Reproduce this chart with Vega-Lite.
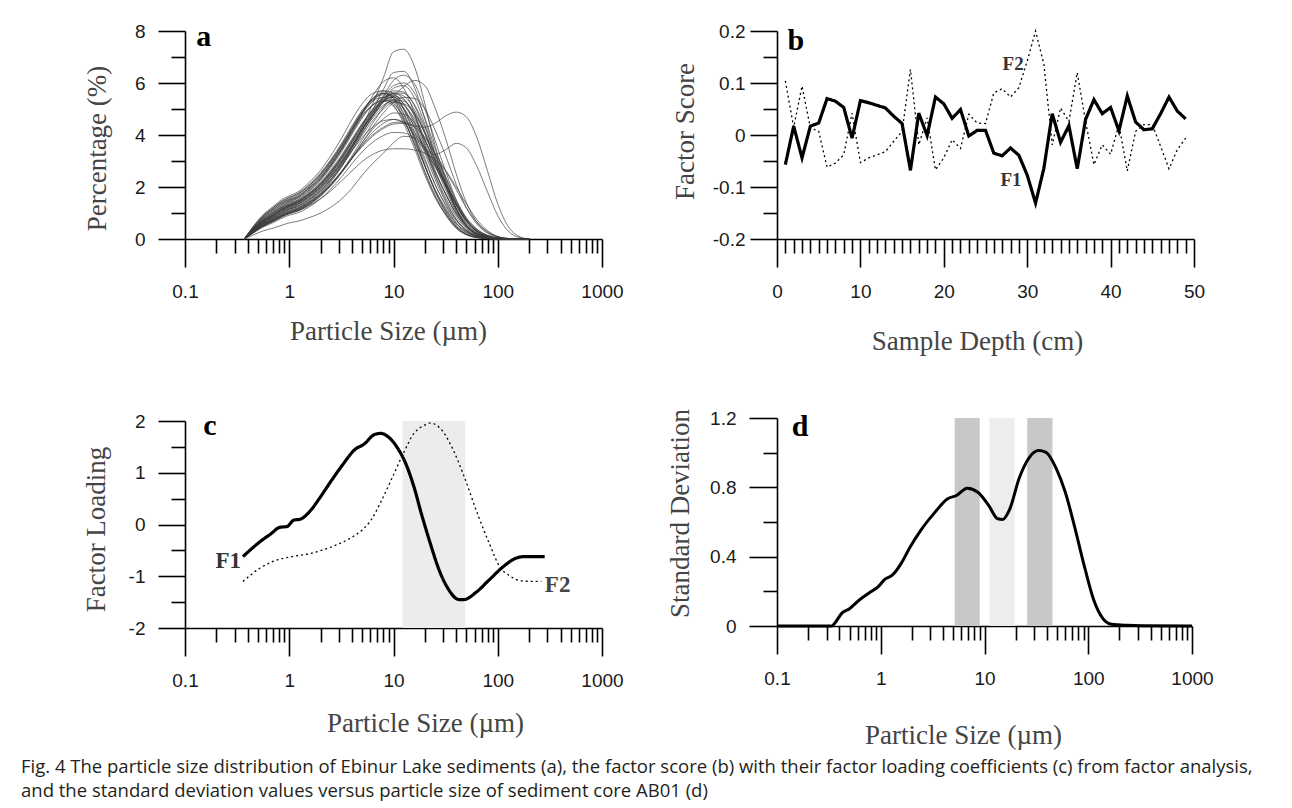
{
  "$schema": "https://vega.github.io/schema/vega-lite/v6.json",
  "padding": {"left": 21, "top": 22, "right": 5, "bottom": 10},
  "datasets": {
    "bins": [
      {"k":"k0","size":0.37},{"k":"k1","size":0.45},{"k":"k2","size":0.55},{"k":"k3","size":0.7},{"k":"k4","size":0.85},{"k":"k5","size":1},{"k":"k6","size":1.2},{"k":"k7","size":1.5},{"k":"k8","size":2},{"k":"k9","size":2.5},{"k":"k10","size":3.2},{"k":"k11","size":4},{"k":"k12","size":5},{"k":"k13","size":6.3},{"k":"k14","size":8},{"k":"k15","size":10},{"k":"k16","size":12.5},{"k":"k17","size":16},{"k":"k18","size":20},{"k":"k19","size":25},{"k":"k20","size":32},{"k":"k21","size":40},{"k":"k22","size":50},{"k":"k23","size":63},{"k":"k24","size":80},{"k":"k25","size":100},{"k":"k26","size":125},{"k":"k27","size":160},{"k":"k28","size":200}
    ],
    "psd": [
      {"id":"f1","k0":0,"k1":0.45,"k2":0.85,"k3":1.2,"k4":1.45,"k5":1.6,"k6":1.75,"k7":2.05,"k8":2.55,"k9":3.05,"k10":3.7,"k11":4.35,"k12":4.95,"k13":5.4,"k14":5.6,"k15":5.4,"k16":4.8,"k17":3.8,"k18":2.8,"k19":1.9,"k20":1.1,"k21":0.55,"k22":0.25,"k23":0.1,"k24":0.03,"k25":0.01,"k26":0,"k27":0,"k28":0},
      {"id":"f2","k0":0,"k1":0.42,"k2":0.8,"k3":1.15,"k4":1.4,"k5":1.55,"k6":1.7,"k7":2.0,"k8":2.5,"k9":3.0,"k10":3.65,"k11":4.3,"k12":4.9,"k13":5.35,"k14":5.55,"k15":5.3,"k16":4.6,"k17":3.6,"k18":2.6,"k19":1.7,"k20":0.95,"k21":0.45,"k22":0.18,"k23":0.06,"k24":0.02,"k25":0,"k26":0,"k27":0,"k28":0},
      {"id":"f3","k0":0,"k1":0.4,"k2":0.78,"k3":1.1,"k4":1.35,"k5":1.5,"k6":1.62,"k7":1.92,"k8":2.4,"k9":2.9,"k10":3.5,"k11":4.15,"k12":4.8,"k13":5.3,"k14":5.6,"k15":5.5,"k16":5.0,"k17":4.1,"k18":3.1,"k19":2.1,"k20":1.25,"k21":0.62,"k22":0.28,"k23":0.1,"k24":0.03,"k25":0.01,"k26":0,"k27":0,"k28":0},
      {"id":"f4","k0":0,"k1":0.44,"k2":0.82,"k3":1.15,"k4":1.4,"k5":1.52,"k6":1.65,"k7":1.95,"k8":2.45,"k9":2.95,"k10":3.6,"k11":4.25,"k12":4.85,"k13":5.3,"k14":5.45,"k15":5.15,"k16":4.45,"k17":3.45,"k18":2.45,"k19":1.6,"k20":0.9,"k21":0.42,"k22":0.17,"k23":0.06,"k24":0.02,"k25":0,"k26":0,"k27":0,"k28":0},
      {"id":"f5","k0":0,"k1":0.38,"k2":0.72,"k3":1.02,"k4":1.25,"k5":1.4,"k6":1.5,"k7":1.8,"k8":2.3,"k9":2.8,"k10":3.45,"k11":4.1,"k12":4.7,"k13":5.15,"k14":5.35,"k15":5.2,"k16":4.7,"k17":3.9,"k18":3.0,"k19":2.1,"k20":1.3,"k21":0.7,"k22":0.32,"k23":0.12,"k24":0.04,"k25":0.01,"k26":0,"k27":0,"k28":0},
      {"id":"f6","k0":0,"k1":0.46,"k2":0.86,"k3":1.2,"k4":1.46,"k5":1.6,"k6":1.72,"k7":2.0,"k8":2.5,"k9":3.0,"k10":3.6,"k11":4.2,"k12":4.75,"k13":5.15,"k14":5.3,"k15":5.1,"k16":4.55,"k17":3.7,"k18":2.8,"k19":1.9,"k20":1.15,"k21":0.6,"k22":0.28,"k23":0.1,"k24":0.03,"k25":0.01,"k26":0,"k27":0,"k28":0},
      {"id":"f7","k0":0,"k1":0.4,"k2":0.75,"k3":1.05,"k4":1.3,"k5":1.45,"k6":1.58,"k7":1.88,"k8":2.35,"k9":2.85,"k10":3.5,"k11":4.2,"k12":4.85,"k13":5.4,"k14":5.7,"k15":5.6,"k16":5.0,"k17":3.95,"k18":2.85,"k19":1.85,"k20":1.0,"k21":0.48,"k22":0.2,"k23":0.07,"k24":0.02,"k25":0,"k26":0,"k27":0,"k28":0},
      {"id":"f8","k0":0,"k1":0.36,"k2":0.7,"k3":1.0,"k4":1.22,"k5":1.36,"k6":1.48,"k7":1.76,"k8":2.25,"k9":2.75,"k10":3.38,"k11":4.02,"k12":4.65,"k13":5.15,"k14":5.45,"k15":5.45,"k16":5.05,"k17":4.25,"k18":3.3,"k19":2.3,"k20":1.4,"k21":0.75,"k22":0.35,"k23":0.13,"k24":0.04,"k25":0.01,"k26":0,"k27":0,"k28":0},
      {"id":"f9","k0":0,"k1":0.48,"k2":0.9,"k3":1.25,"k4":1.52,"k5":1.66,"k6":1.8,"k7":2.12,"k8":2.65,"k9":3.2,"k10":3.9,"k11":4.6,"k12":5.2,"k13":5.6,"k14":5.7,"k15":5.4,"k16":4.65,"k17":3.6,"k18":2.55,"k19":1.65,"k20":0.9,"k21":0.42,"k22":0.16,"k23":0.05,"k24":0.01,"k25":0,"k26":0,"k27":0,"k28":0},
      {"id":"f10","k0":0,"k1":0.41,"k2":0.78,"k3":1.1,"k4":1.34,"k5":1.48,"k6":1.6,"k7":1.9,"k8":2.38,"k9":2.9,"k10":3.55,"k11":4.22,"k12":4.88,"k13":5.38,"k14":5.62,"k15":5.45,"k16":4.85,"k17":3.85,"k18":2.8,"k19":1.85,"k20":1.05,"k21":0.5,"k22":0.2,"k23":0.07,"k24":0.02,"k25":0,"k26":0,"k27":0,"k28":0},
      {"id":"m1","k0":0,"k1":0.36,"k2":0.68,"k3":0.95,"k4":1.18,"k5":1.32,"k6":1.44,"k7":1.7,"k8":2.15,"k9":2.6,"k10":3.2,"k11":3.8,"k12":4.4,"k13":4.95,"k14":5.4,"k15":5.6,"k16":5.4,"k17":4.75,"k18":3.85,"k19":2.85,"k20":1.85,"k21":1.05,"k22":0.5,"k23":0.2,"k24":0.07,"k25":0.02,"k26":0,"k27":0,"k28":0},
      {"id":"m2","k0":0,"k1":0.34,"k2":0.65,"k3":0.92,"k4":1.14,"k5":1.28,"k6":1.4,"k7":1.65,"k8":2.08,"k9":2.52,"k10":3.1,"k11":3.7,"k12":4.3,"k13":4.85,"k14":5.35,"k15":5.7,"k16":5.65,"k17":5.1,"k18":4.15,"k19":3.05,"k20":1.95,"k21":1.1,"k22":0.52,"k23":0.2,"k24":0.07,"k25":0.02,"k26":0,"k27":0,"k28":0},
      {"id":"m3","k0":0,"k1":0.35,"k2":0.66,"k3":0.93,"k4":1.15,"k5":1.3,"k6":1.42,"k7":1.68,"k8":2.1,"k9":2.55,"k10":3.12,"k11":3.7,"k12":4.25,"k13":4.75,"k14":5.15,"k15":5.3,"k16":5.15,"k17":4.6,"k18":3.8,"k19":2.9,"k20":2.0,"k21":1.2,"k22":0.62,"k23":0.27,"k24":0.1,"k25":0.03,"k26":0.01,"k27":0,"k28":0},
      {"id":"m4","k0":0,"k1":0.32,"k2":0.62,"k3":0.88,"k4":1.1,"k5":1.24,"k6":1.35,"k7":1.6,"k8":2.02,"k9":2.45,"k10":3.0,"k11":3.6,"k12":4.2,"k13":4.8,"k14":5.3,"k15":5.6,"k16":5.5,"k17":4.95,"k18":4.05,"k19":3.0,"k20":1.98,"k21":1.15,"k22":0.58,"k23":0.24,"k24":0.08,"k25":0.02,"k26":0,"k27":0,"k28":0},
      {"id":"m5","k0":0,"k1":0.33,"k2":0.63,"k3":0.9,"k4":1.12,"k5":1.26,"k6":1.37,"k7":1.62,"k8":2.05,"k9":2.5,"k10":3.05,"k11":3.62,"k12":4.2,"k13":4.75,"k14":5.25,"k15":5.5,"k16":5.35,"k17":4.7,"k18":3.7,"k19":2.65,"k20":1.7,"k21":0.95,"k22":0.45,"k23":0.18,"k24":0.06,"k25":0.02,"k26":0,"k27":0,"k28":0},
      {"id":"m6","k0":0,"k1":0.3,"k2":0.58,"k3":0.83,"k4":1.04,"k5":1.18,"k6":1.3,"k7":1.55,"k8":1.95,"k9":2.38,"k10":2.92,"k11":3.5,"k12":4.1,"k13":4.7,"k14":5.3,"k15":5.8,"k16":5.9,"k17":5.4,"k18":4.4,"k19":3.2,"k20":2.05,"k21":1.15,"k22":0.55,"k23":0.22,"k24":0.08,"k25":0.02,"k26":0,"k27":0,"k28":0},
      {"id":"m7","k0":0,"k1":0.31,"k2":0.6,"k3":0.85,"k4":1.06,"k5":1.2,"k6":1.32,"k7":1.56,"k8":1.98,"k9":2.4,"k10":2.95,"k11":3.52,"k12":4.1,"k13":4.65,"k14":5.1,"k15":5.35,"k16":5.3,"k17":4.85,"k18":4.05,"k19":3.1,"k20":2.15,"k21":1.3,"k22":0.68,"k23":0.3,"k24":0.11,"k25":0.03,"k26":0.01,"k27":0,"k28":0},
      {"id":"m8","k0":0,"k1":0.34,"k2":0.64,"k3":0.9,"k4":1.12,"k5":1.27,"k6":1.4,"k7":1.66,"k8":2.1,"k9":2.55,"k10":3.15,"k11":3.78,"k12":4.42,"k13":5.0,"k14":5.45,"k15":5.55,"k16":5.2,"k17":4.4,"k18":3.4,"k19":2.45,"k20":1.55,"k21":0.85,"k22":0.4,"k23":0.15,"k24":0.05,"k25":0.01,"k26":0,"k27":0,"k28":0},
      {"id":"m9","k0":0,"k1":0.29,"k2":0.56,"k3":0.8,"k4":1.0,"k5":1.14,"k6":1.25,"k7":1.48,"k8":1.88,"k9":2.3,"k10":2.85,"k11":3.42,"k12":4.0,"k13":4.55,"k14":5.0,"k15":5.25,"k16":5.2,"k17":4.8,"k18":4.1,"k19":3.25,"k20":2.35,"k21":1.5,"k22":0.82,"k23":0.38,"k24":0.14,"k25":0.04,"k26":0.01,"k27":0,"k28":0},
      {"id":"m10","k0":0,"k1":0.37,"k2":0.7,"k3":0.98,"k4":1.2,"k5":1.34,"k6":1.46,"k7":1.72,"k8":2.18,"k9":2.65,"k10":3.25,"k11":3.85,"k12":4.45,"k13":4.95,"k14":5.3,"k15":5.35,"k16":5.0,"k17":4.3,"k18":3.45,"k19":2.55,"k20":1.7,"k21":1.0,"k22":0.5,"k23":0.2,"k24":0.07,"k25":0.02,"k26":0,"k27":0,"k28":0},
      {"id":"m11","k0":0,"k1":0.35,"k2":0.67,"k3":0.94,"k4":1.16,"k5":1.3,"k6":1.42,"k7":1.69,"k8":2.13,"k9":2.58,"k10":3.16,"k11":3.75,"k12":4.35,"k13":4.9,"k14":5.3,"k15":5.45,"k16":5.2,"k17":4.5,"k18":3.55,"k19":2.6,"k20":1.68,"k21":0.95,"k22":0.46,"k23":0.18,"k24":0.06,"k25":0.02,"k26":0,"k27":0,"k28":0},
      {"id":"m12","k0":0,"k1":0.32,"k2":0.61,"k3":0.87,"k4":1.08,"k5":1.22,"k6":1.34,"k7":1.59,"k8":2.0,"k9":2.44,"k10":3.0,"k11":3.58,"k12":4.18,"k13":4.78,"k14":5.3,"k15":5.62,"k16":5.6,"k17":5.15,"k18":4.3,"k19":3.3,"k20":2.25,"k21":1.35,"k22":0.7,"k23":0.3,"k24":0.1,"k25":0.03,"k26":0.01,"k27":0,"k28":0},
      {"id":"c1","k0":0,"k1":0.26,"k2":0.5,"k3":0.72,"k4":0.9,"k5":1.03,"k6":1.13,"k7":1.35,"k8":1.75,"k9":2.2,"k10":2.8,"k11":3.5,"k12":4.3,"k13":5.2,"k14":6.2,"k15":7.2,"k16":7.3,"k17":6.6,"k18":5.2,"k19":3.6,"k20":2.2,"k21":1.15,"k22":0.5,"k23":0.18,"k24":0.05,"k25":0.01,"k26":0,"k27":0,"k28":0},
      {"id":"c2","k0":0,"k1":0.28,"k2":0.54,"k3":0.77,"k4":0.96,"k5":1.1,"k6":1.2,"k7":1.43,"k8":1.84,"k9":2.28,"k10":2.88,"k11":3.52,"k12":4.2,"k13":4.95,"k14":5.75,"k15":6.4,"k16":6.45,"k17":5.8,"k18":4.6,"k19":3.3,"k20":2.1,"k21":1.15,"k22":0.52,"k23":0.2,"k24":0.06,"k25":0.01,"k26":0,"k27":0,"k28":0},
      {"id":"c3","k0":0,"k1":0.27,"k2":0.52,"k3":0.75,"k4":0.94,"k5":1.07,"k6":1.18,"k7":1.4,"k8":1.8,"k9":2.22,"k10":2.8,"k11":3.4,"k12":4.05,"k13":4.75,"k14":5.5,"k15":6.1,"k16":6.3,"k17":5.95,"k18":5.0,"k19":3.8,"k20":2.55,"k21":1.5,"k22":0.75,"k23":0.3,"k24":0.1,"k25":0.03,"k26":0,"k27":0,"k28":0},
      {"id":"c4","k0":0,"k1":0.25,"k2":0.48,"k3":0.69,"k4":0.87,"k5":1.0,"k6":1.1,"k7":1.3,"k8":1.68,"k9":2.08,"k10":2.62,"k11":3.2,"k12":3.82,"k13":4.45,"k14":5.05,"k15":5.5,"k16":5.85,"k17":6.1,"k18":5.9,"k19":5.05,"k20":3.8,"k21":2.5,"k22":1.4,"k23":0.65,"k24":0.25,"k25":0.08,"k26":0.02,"k27":0,"k28":0},
      {"id":"c5","k0":0,"k1":0.3,"k2":0.57,"k3":0.81,"k4":1.01,"k5":1.15,"k6":1.26,"k7":1.5,"k8":1.92,"k9":2.36,"k10":2.95,"k11":3.58,"k12":4.22,"k13":4.85,"k14":5.45,"k15":5.9,"k16":6.0,"k17":5.6,"k18":4.65,"k19":3.5,"k20":2.35,"k21":1.4,"k22":0.72,"k23":0.3,"k24":0.1,"k25":0.03,"k26":0,"k27":0,"k28":0},
      {"id":"c6","k0":0,"k1":0.38,"k2":0.72,"k3":1.02,"k4":1.26,"k5":1.42,"k6":1.55,"k7":1.84,"k8":2.32,"k9":2.82,"k10":3.45,"k11":4.1,"k12":4.8,"k13":5.5,"k14":6.05,"k15":6.2,"k16":5.8,"k17":4.8,"k18":3.6,"k19":2.45,"k20":1.45,"k21":0.75,"k22":0.33,"k23":0.12,"k24":0.04,"k25":0.01,"k26":0,"k27":0,"k28":0},
      {"id":"c7","k0":0,"k1":0.24,"k2":0.47,"k3":0.67,"k4":0.85,"k5":0.97,"k6":1.07,"k7":1.27,"k8":1.64,"k9":2.03,"k10":2.55,"k11":3.1,"k12":3.7,"k13":4.3,"k14":4.85,"k15":5.25,"k16":5.45,"k17":5.4,"k18":5.0,"k19":4.2,"k20":3.15,"k21":2.1,"k22":1.2,"k23":0.58,"k24":0.22,"k25":0.07,"k26":0.02,"k27":0,"k28":0},
      {"id":"w1","k0":0,"k1":0.15,"k2":0.3,"k3":0.42,"k4":0.53,"k5":0.62,"k6":0.68,"k7":0.8,"k8":1.0,"k9":1.22,"k10":1.55,"k11":1.95,"k12":2.45,"k13":2.9,"k14":3.3,"k15":3.7,"k16":3.95,"k17":3.9,"k18":3.5,"k19":2.9,"k20":2.1,"k21":1.4,"k22":0.8,"k23":0.38,"k24":0.14,"k25":0.04,"k26":0.01,"k27":0,"k28":0},
      {"id":"w2","k0":0,"k1":0.25,"k2":0.5,"k3":0.7,"k4":0.88,"k5":1.0,"k6":1.08,"k7":1.25,"k8":1.55,"k9":1.85,"k10":2.25,"k11":2.62,"k12":2.98,"k13":3.25,"k14":3.42,"k15":3.47,"k16":3.47,"k17":3.42,"k18":3.3,"k19":3.05,"k20":2.6,"k21":2.0,"k22":1.35,"k23":0.75,"k24":0.32,"k25":0.1,"k26":0.02,"k27":0,"k28":0},
      {"id":"w3","k0":0,"k1":0.22,"k2":0.44,"k3":0.63,"k4":0.8,"k5":0.92,"k6":1.0,"k7":1.2,"k8":1.55,"k9":1.92,"k10":2.4,"k11":2.9,"k12":3.35,"k13":3.72,"k14":3.98,"k15":4.1,"k16":4.08,"k17":3.85,"k18":3.4,"k19":2.8,"k20":2.05,"k21":1.35,"k22":0.75,"k23":0.35,"k24":0.12,"k25":0.03,"k26":0.01,"k27":0,"k28":0},
      {"id":"w4","k0":0,"k1":0.27,"k2":0.52,"k3":0.74,"k4":0.93,"k5":1.06,"k6":1.16,"k7":1.38,"k8":1.75,"k9":2.13,"k10":2.62,"k11":3.12,"k12":3.6,"k13":4.0,"k14":4.3,"k15":4.48,"k16":4.5,"k17":4.3,"k18":3.9,"k19":3.3,"k20":2.6,"k21":1.9,"k22":1.2,"k23":0.65,"k24":0.28,"k25":0.09,"k26":0.02,"k27":0,"k28":0},
      {"id":"b1","k0":0,"k1":0.27,"k2":0.52,"k3":0.74,"k4":0.92,"k5":1.05,"k6":1.15,"k7":1.36,"k8":1.72,"k9":2.1,"k10":2.6,"k11":3.1,"k12":3.55,"k13":3.95,"k14":4.25,"k15":4.42,"k16":4.45,"k17":4.35,"k18":4.3,"k19":4.45,"k20":4.75,"k21":4.88,"k22":4.7,"k23":3.9,"k24":2.6,"k25":1.35,"k26":0.5,"k27":0.1,"k28":0},
      {"id":"b2","k0":0,"k1":0.3,"k2":0.57,"k3":0.81,"k4":1.0,"k5":1.14,"k6":1.24,"k7":1.47,"k8":1.86,"k9":2.28,"k10":2.82,"k11":3.38,"k12":3.9,"k13":4.3,"k14":4.55,"k15":4.6,"k16":4.45,"k17":4.0,"k18":3.5,"k19":3.25,"k20":3.45,"k21":3.68,"k22":3.5,"k23":2.8,"k24":1.8,"k25":0.9,"k26":0.32,"k27":0.06,"k28":0},
      {"id":"l1","k0":0,"k1":0.24,"k2":0.47,"k3":0.68,"k4":0.86,"k5":0.98,"k6":1.08,"k7":1.3,"k8":1.68,"k9":2.07,"k10":2.6,"k11":3.15,"k12":3.7,"k13":4.22,"k14":4.62,"k15":4.85,"k16":4.8,"k17":4.45,"k18":3.8,"k19":3.0,"k20":2.1,"k21":1.3,"k22":0.68,"k23":0.3,"k24":0.1,"k25":0.03,"k26":0,"k27":0,"k28":0},
      {"id":"l2","k0":0,"k1":0.26,"k2":0.5,"k3":0.71,"k4":0.89,"k5":1.02,"k6":1.12,"k7":1.33,"k8":1.7,"k9":2.08,"k10":2.58,"k11":3.1,"k12":3.62,"k13":4.1,"k14":4.45,"k15":4.6,"k16":4.5,"k17":4.1,"k18":3.5,"k19":2.8,"k20":2.0,"k21":1.28,"k22":0.7,"k23":0.32,"k24":0.11,"k25":0.03,"k26":0.01,"k27":0,"k28":0}
    ],
    "score": [
      {"d":1,"F1":-0.057,"F2":0.104},{"d":2,"F1":0.017,"F2":0.015},{"d":3,"F1":-0.044,"F2":0.094},{"d":4,"F1":0.017,"F2":0.014},{"d":5,"F1":0.023,"F2":0.007},
      {"d":6,"F1":0.070,"F2":-0.062},{"d":7,"F1":0.065,"F2":-0.054},{"d":8,"F1":0.053,"F2":-0.038},{"d":9,"F1":-0.006,"F2":0.042},{"d":10,"F1":0.066,"F2":-0.053},
      {"d":11,"F1":0.062,"F2":-0.044},{"d":12,"F1":0.057,"F2":-0.038},{"d":13,"F1":0.052,"F2":-0.032},{"d":14,"F1":0.036,"F2":-0.012},{"d":15,"F1":0.022,"F2":0.007},
      {"d":16,"F1":-0.068,"F2":0.126},{"d":17,"F1":0.042,"F2":-0.019},{"d":18,"F1":-0.001,"F2":0.033},{"d":19,"F1":0.073,"F2":-0.067},{"d":20,"F1":0.060,"F2":-0.044},
      {"d":21,"F1":0.032,"F2":-0.009},{"d":22,"F1":0.049,"F2":-0.026},{"d":23,"F1":-0.002,"F2":0.040},{"d":24,"F1":0.009,"F2":0.023},{"d":25,"F1":0.009,"F2":0.022},
      {"d":26,"F1":-0.035,"F2":0.081},{"d":27,"F1":-0.040,"F2":0.089},{"d":28,"F1":-0.025,"F2":0.073},{"d":29,"F1":-0.039,"F2":0.091},{"d":30,"F1":-0.077,"F2":0.142},
      {"d":31,"F1":-0.131,"F2":0.200},{"d":32,"F1":-0.064,"F2":0.136},{"d":33,"F1":0.041,"F2":-0.019},{"d":34,"F1":-0.014,"F2":0.052},{"d":35,"F1":0.018,"F2":0.026},
      {"d":36,"F1":-0.065,"F2":0.120},{"d":37,"F1":0.030,"F2":0.026},{"d":38,"F1":0.068,"F2":-0.057},{"d":39,"F1":0.041,"F2":-0.019},{"d":40,"F1":0.053,"F2":-0.037},
      {"d":41,"F1":0.008,"F2":0.020},{"d":42,"F1":0.075,"F2":-0.069},{"d":43,"F1":0.025,"F2":0.007},{"d":44,"F1":0.010,"F2":0.020},{"d":45,"F1":0.012,"F2":0.020},
      {"d":46,"F1":0.041,"F2":-0.022},{"d":47,"F1":0.073,"F2":-0.065},{"d":48,"F1":0.046,"F2":-0.028},{"d":49,"F1":0.031,"F2":-0.006}
    ],
    "loading": [
      {"s":"F1","x":0.36,"y":-0.62},{"s":"F1","x":0.526,"y":-0.33},{"s":"F1","x":0.667,"y":-0.18},{"s":"F1","x":0.81,"y":-0.055},{"s":"F1","x":0.95,"y":-0.04},{"s":"F1","x":1.11,"y":0.087},{"s":"F1","x":1.26,"y":0.1},{"s":"F1","x":1.66,"y":0.31},{"s":"F1","x":1.94,"y":0.5},{"s":"F1","x":2.56,"y":0.86},{"s":"F1","x":3.24,"y":1.15},{"s":"F1","x":4.27,"y":1.45},{"s":"F1","x":5.2,"y":1.55},{"s":"F1","x":6.6,"y":1.74},{"s":"F1","x":7.6,"y":1.76},{"s":"F1","x":9.06,"y":1.68},{"s":"F1","x":11.0,"y":1.47},{"s":"F1","x":12.9,"y":1.21},{"s":"F1","x":15.7,"y":0.73},{"s":"F1","x":18.5,"y":0.21},{"s":"F1","x":22.5,"y":-0.36},{"s":"F1","x":27.4,"y":-0.88},{"s":"F1","x":33.4,"y":-1.24},{"s":"F1","x":42.4,"y":-1.45},{"s":"F1","x":47.7,"y":-1.45},{"s":"F1","x":60.3,"y":-1.33},{"s":"F1","x":82.8,"y":-1.07},{"s":"F1","x":113.7,"y":-0.81},{"s":"F1","x":150,"y":-0.65},{"s":"F1","x":182,"y":-0.62},{"s":"F1","x":282,"y":-0.62},
      {"s":"F2","x":0.36,"y":-1.10},{"s":"F2","x":0.526,"y":-0.84},{"s":"F2","x":0.78,"y":-0.68},{"s":"F2","x":1.07,"y":-0.62},{"s":"F2","x":1.59,"y":-0.56},{"s":"F2","x":2.56,"y":-0.43},{"s":"F2","x":3.8,"y":-0.27},{"s":"F2","x":4.98,"y":-0.11},{"s":"F2","x":6.1,"y":0.087},{"s":"F2","x":7.7,"y":0.47},{"s":"F2","x":9.8,"y":0.92},{"s":"F2","x":12.4,"y":1.37},{"s":"F2","x":15.7,"y":1.76},{"s":"F2","x":19.9,"y":1.92},{"s":"F2","x":22.3,"y":1.96},{"s":"F2","x":27.4,"y":1.88},{"s":"F2","x":37.6,"y":1.43},{"s":"F2","x":47.7,"y":0.92},{"s":"F2","x":65.5,"y":0.15},{"s":"F2","x":82.8,"y":-0.36},{"s":"F2","x":104,"y":-0.81},{"s":"F2","x":132,"y":-1.0},{"s":"F2","x":169,"y":-1.09},{"s":"F2","x":232,"y":-1.10},{"s":"F2","x":262,"y":-1.10}
    ],
    "sd": [
      {"x":0.1,"sd":0},{"x":0.336,"sd":0},{"x":0.363,"sd":0.019},{"x":0.42,"sd":0.073},{"x":0.5,"sd":0.1},{"x":0.63,"sd":0.153},{"x":0.8,"sd":0.197},{"x":0.94,"sd":0.226},{"x":1.1,"sd":0.27},{"x":1.29,"sd":0.293},{"x":1.57,"sd":0.36},{"x":1.92,"sd":0.456},{"x":2.43,"sd":0.552},{"x":3.34,"sd":0.657},{"x":4.41,"sd":0.734},{"x":5.37,"sd":0.753},{"x":6.81,"sd":0.795},{"x":8.63,"sd":0.772},{"x":10.96,"sd":0.696},{"x":13.4,"sd":0.619},{"x":15.0,"sd":0.615},{"x":17.6,"sd":0.677},{"x":21.5,"sd":0.849},{"x":27.2,"sd":0.974},{"x":33.2,"sd":1.012},{"x":38.9,"sd":1.003},{"x":49.3,"sd":0.907},{"x":60.1,"sd":0.772},{"x":73.3,"sd":0.581},{"x":92.9,"sd":0.332},{"x":113,"sd":0.15},{"x":138,"sd":0.044},{"x":168,"sd":0.0096},{"x":240,"sd":0.004},{"x":330,"sd":0.002},{"x":1000,"sd":0}
    ]
  },
  "config": {
    "view": {"stroke": null},
    "axis": {"grid": false, "domainColor": "#000", "domainWidth": 1.6, "tickColor": "#000", "tickWidth": 1.6, "labelFont": "Liberation Sans", "labelFontSize": 19, "labelColor": "#1a1a1a", "titleFont": "Liberation Serif", "titleFontSize": 27, "titleFontWeight": "normal", "titleColor": "#444", "labelFlush": false, "labelOverlap": false, "labelBound": false}
  },
  "title": {
    "text": ["Fig. 4  The particle size distribution of Ebinur Lake sediments (a), the factor score (b) with their factor loading coefficients (c) from factor analysis,", "and the standard deviation values versus particle size of sediment core AB01 (d)"],
    "orient": "bottom", "anchor": "start", "font": "Open Sans", "fontSize": 18.5, "fontWeight": "normal", "color": "#231f20", "lineHeight": 24, "offset": 10, "dx": -61
  },
  "spacing": 41,
  "hconcat": [
    {
      "spacing": 66,
      "vconcat": [
        {
          "width": 417, "height": 208,
          "layer": [
            {
              "data": {"name": "psd"},
              "transform": [
                {"fold": ["k0","k1","k2","k3","k4","k5","k6","k7","k8","k9","k10","k11","k12","k13","k14","k15","k16","k17","k18","k19","k20","k21","k22","k23","k24","k25","k26","k27","k28"], "as": ["k", "pct"]},
                {"lookup": "k", "from": {"data": {"name": "bins"}, "key": "k", "fields": ["size"]}}
              ],
              "mark": {"type": "line", "interpolate": "monotone", "strokeWidth": 0.9, "color": "#3a3a3a", "opacity": 0.75},
              "encoding": {
                "x": {"field": "size", "type": "quantitative", "scale": {"type": "log", "domain": [0.1, 1000]},
                  "axis": {"title": "Particle Size (µm)", "tickCount": 200, "values": [0.1,0.2,0.3,0.4,0.5,0.6,0.7,0.8,0.9,1,2,3,4,5,6,7,8,9,10,20,30,40,50,60,70,80,90,100,200,300,400,500,600,700,800,900,1000], "format": "~g",
                    "labelExpr": "indexof([0.1,1,10,100,1000], datum.value) >= 0 ? datum.label : ''",
                    "tickSize": {"condition": {"test": "indexof([0.1,1,10,100,1000], datum.value) >= 0", "value": 28}, "value": 14},
                    "labelPadding": 15, "titleX": 203, "titleY": 100, "titleBaseline": "alphabetic"}},
                "y": {"field": "pct", "type": "quantitative", "scale": {"domain": [0, 8], "nice": false, "zero": false},
                  "axis": {"title": "Percentage (%)", "tickCount": 200, "values": [0,1,2,3,4,5,6,7,8], "format": "d",
                    "labelExpr": "datum.value % 2 == 0 ? datum.label : ''",
                    "tickSize": {"condition": {"test": "datum.value % 2 == 0", "value": 27}, "value": 14},
                    "labelPadding": 13, "titleX": -88, "titleY": 117, "titleBaseline": "middle"}},
                "detail": {"field": "id", "type": "nominal"}
              }
            },
            {
              "data": {"values": [{"x": 0.128, "y": 7.42, "t": "a"}]},
              "mark": {"type": "text", "font": "Liberation Serif", "fontWeight": "bold", "fontSize": 30, "align": "left", "baseline": "alphabetic", "color": "#000"},
              "encoding": {"x": {"field": "x", "type": "quantitative"}, "y": {"field": "y", "type": "quantitative"}, "text": {"field": "t"}}
            }
          ]
        },
        {
          "width": 417, "height": 207,
          "layer": [
            {
              "data": {"values": [{"x1": 12.2, "x2": 48.8}]},
              "mark": {"type": "rect", "color": "#ececec"},
              "encoding": {"x": {"field": "x1", "type": "quantitative"}, "x2": {"field": "x2"}, "y": {"datum": -2}, "y2": {"datum": 2}}
            },
            {
              "data": {"name": "loading"},
              "mark": {"type": "line", "interpolate": "monotone", "color": "#000"},
              "encoding": {
                "x": {"field": "x", "type": "quantitative", "scale": {"type": "log", "domain": [0.1, 1000]},
                  "axis": {"title": "Particle Size (µm)", "tickCount": 200, "values": [0.1,0.2,0.3,0.4,0.5,0.6,0.7,0.8,0.9,1,2,3,4,5,6,7,8,9,10,20,30,40,50,60,70,80,90,100,200,300,400,500,600,700,800,900,1000], "format": "~g",
                    "labelExpr": "indexof([0.1,1,10,100,1000], datum.value) >= 0 ? datum.label : ''",
                    "tickSize": {"condition": {"test": "indexof([0.1,1,10,100,1000], datum.value) >= 0", "value": 28}, "value": 14},
                    "labelPadding": 15, "titleX": 240, "titleY": 103, "titleBaseline": "alphabetic"}},
                "y": {"field": "y", "type": "quantitative", "scale": {"domain": [-2, 2], "nice": false, "zero": false},
                  "axis": {"title": "Factor Loading", "tickCount": 200, "values": [-2,-1.5,-1,-0.5,0,0.5,1,1.5,2],
                    "labelExpr": "datum.value == round(datum.value) ? (datum.value < 0 ? '-' : '') + format(abs(datum.value), '~g') : ''",
                    "tickSize": {"condition": {"test": "datum.value == round(datum.value)", "value": 27}, "value": 14},
                    "labelPadding": 13, "titleX": -89, "titleY": 108, "titleBaseline": "middle"}},
                "detail": {"field": "s", "type": "nominal"},
                "strokeWidth": {"field": "s", "type": "nominal", "scale": {"domain": ["F1", "F2"], "range": [3.2, 1.3]}, "legend": null},
                "strokeDash": {"field": "s", "type": "nominal", "scale": {"domain": ["F1", "F2"], "range": [[1, 0], [2, 3]]}, "legend": null}
              }
            },
            {
              "data": {"values": [{"x": 0.15, "y": 1.73, "t": "c"}]},
              "mark": {"type": "text", "font": "Liberation Serif", "fontWeight": "bold", "fontSize": 30, "align": "left", "baseline": "alphabetic", "color": "#000"},
              "encoding": {"x": {"field": "x", "type": "quantitative"}, "y": {"field": "y", "type": "quantitative"}, "text": {"field": "t"}}
            },
            {
              "data": {"values": [{"x": 0.345, "y": -0.85, "t": "F1"}]},
              "mark": {"type": "text", "font": "Liberation Serif", "fontWeight": "bold", "fontSize": 23, "align": "right", "baseline": "alphabetic", "color": "#333"},
              "encoding": {"x": {"field": "x", "type": "quantitative"}, "y": {"field": "y", "type": "quantitative"}, "text": {"field": "t"}}
            },
            {
              "data": {"values": [{"x": 283, "y": -1.30, "t": "F2"}]},
              "mark": {"type": "text", "font": "Liberation Serif", "fontWeight": "bold", "fontSize": 23, "align": "left", "baseline": "alphabetic", "color": "#444"},
              "encoding": {"x": {"field": "x", "type": "quantitative"}, "y": {"field": "y", "type": "quantitative"}, "text": {"field": "t"}}
            }
          ]
        }
      ]
    },
    {
      "spacing": 54,
      "vconcat": [
        {
          "width": 417, "height": 208,
          "layer": [
            {
              "data": {"name": "score"},
              "transform": [{"fold": ["F1", "F2"], "as": ["s", "v"]}],
              "mark": {"type": "line", "color": "#000"},
              "encoding": {
                "x": {"field": "d", "type": "quantitative", "scale": {"domain": [0, 50], "nice": false, "zero": false},
                  "axis": {"title": "Sample Depth (cm)", "tickCount": 200, "format": "d", "values": [0,1,2,3,4,5,6,7,8,9,10,11,12,13,14,15,16,17,18,19,20,21,22,23,24,25,26,27,28,29,30,31,32,33,34,35,36,37,38,39,40,41,42,43,44,45,46,47,48,49,50],
                    "labelExpr": "datum.value % 10 == 0 ? datum.label : ''",
                    "tickSize": {"condition": {"test": "datum.value % 10 == 0", "value": 28}, "value": 14},
                    "labelPadding": 15, "titleX": 200, "titleY": 110, "titleBaseline": "alphabetic"}},
                "y": {"field": "v", "type": "quantitative", "scale": {"domain": [-0.2, 0.2], "nice": false, "zero": false},
                  "axis": {"title": "Factor Score", "tickCount": 200, "values": [-0.2,-0.15,-0.1,-0.05,0,0.05,0.1,0.15,0.2],
                    "labelExpr": "abs(datum.value*10 - round(datum.value*10)) < 0.001 ? (datum.value < 0 ? '-' : '') + format(abs(datum.value), '~g') : ''",
                    "tickSize": {"condition": {"test": "abs(datum.value*10 - round(datum.value*10)) < 0.001", "value": 27}, "value": 14},
                    "labelPadding": 5, "titleX": -92, "titleY": 100, "titleBaseline": "middle"}},
                "detail": {"field": "s", "type": "nominal"},
                "strokeWidth": {"field": "s", "type": "nominal", "scale": {"domain": ["F1", "F2"], "range": [3, 1.3]}, "legend": null},
                "strokeDash": {"field": "s", "type": "nominal", "scale": {"domain": ["F1", "F2"], "range": [[1, 0], [2, 2]]}, "legend": null}
              }
            },
            {
              "data": {"values": [{"d": 1.26, "v": 0.163, "t": "b"}]},
              "mark": {"type": "text", "font": "Liberation Serif", "fontWeight": "bold", "fontSize": 30, "align": "left", "baseline": "alphabetic", "color": "#000"},
              "encoding": {"x": {"field": "d", "type": "quantitative"}, "y": {"field": "v", "type": "quantitative"}, "text": {"field": "t"}}
            },
            {
              "data": {"values": [{"d": 27.05, "v": 0.125, "t": "F2"}, {"d": 26.8, "v": -0.098, "t": "F1"}]},
              "mark": {"type": "text", "font": "Liberation Serif", "fontWeight": "bold", "fontSize": 19, "align": "left", "baseline": "alphabetic", "color": "#333"},
              "encoding": {"x": {"field": "d", "type": "quantitative"}, "y": {"field": "v", "type": "quantitative"}, "text": {"field": "t"}}
            }
          ]
        },
        {
          "width": 415, "height": 208,
          "layer": [
            {
              "data": {"values": [{"x1": 5.16, "x2": 8.99, "shade": "dark"}, {"x1": 11.2, "x2": 19.5, "shade": "light"}, {"x1": 25.8, "x2": 45.2, "shade": "dark"}]},
              "mark": {"type": "rect"},
              "encoding": {"x": {"field": "x1", "type": "quantitative"}, "x2": {"field": "x2"}, "y": {"datum": 0}, "y2": {"datum": 1.2},
                "color": {"field": "shade", "type": "nominal", "scale": {"domain": ["dark", "light"], "range": ["#c8c8c8", "#ededed"]}, "legend": null}}
            },
            {
              "data": {"name": "sd"},
              "mark": {"type": "line", "interpolate": "monotone", "color": "#000", "strokeWidth": 3},
              "encoding": {
                "x": {"field": "x", "type": "quantitative", "scale": {"type": "log", "domain": [0.1, 1000]},
                  "axis": {"title": "Particle Size (µm)", "tickCount": 200, "values": [0.1,0.2,0.3,0.4,0.5,0.6,0.7,0.8,0.9,1,2,3,4,5,6,7,8,9,10,20,30,40,50,60,70,80,90,100,200,300,400,500,600,700,800,900,1000], "format": "~g",
                    "labelExpr": "indexof([0.1,1,10,100,1000], datum.value) >= 0 ? datum.label : ''",
                    "tickSize": {"condition": {"test": "indexof([0.1,1,10,100,1000], datum.value) >= 0", "value": 28}, "value": 14},
                    "labelPadding": 15, "titleX": 186, "titleY": 117, "titleBaseline": "alphabetic"}},
                "y": {"field": "sd", "type": "quantitative", "scale": {"domain": [0, 1.2], "nice": false, "zero": false},
                  "axis": {"title": "Standard Deviation", "tickCount": 200, "values": [0,0.2,0.4,0.6,0.8,1,1.2],
                    "labelExpr": "indexof([0,0.4,0.8,1.2], datum.value) >= 0 ? format(datum.value, '~g') : ''",
                    "tickSize": {"condition": {"test": "indexof([0,0.4,0.8,1.2], datum.value) >= 0", "value": 28}, "value": 14},
                    "labelPadding": 13, "titleX": -97, "titleY": 95, "titleBaseline": "middle"}}
              }
            },
            {
              "data": {"values": [{"x": 0.139, "sd": 1.097, "t": "d"}]},
              "mark": {"type": "text", "font": "Liberation Serif", "fontWeight": "bold", "fontSize": 30, "align": "left", "baseline": "alphabetic", "color": "#000"},
              "encoding": {"x": {"field": "x", "type": "quantitative"}, "y": {"field": "sd", "type": "quantitative"}, "text": {"field": "t"}}
            }
          ]
        }
      ]
    }
  ]
}
